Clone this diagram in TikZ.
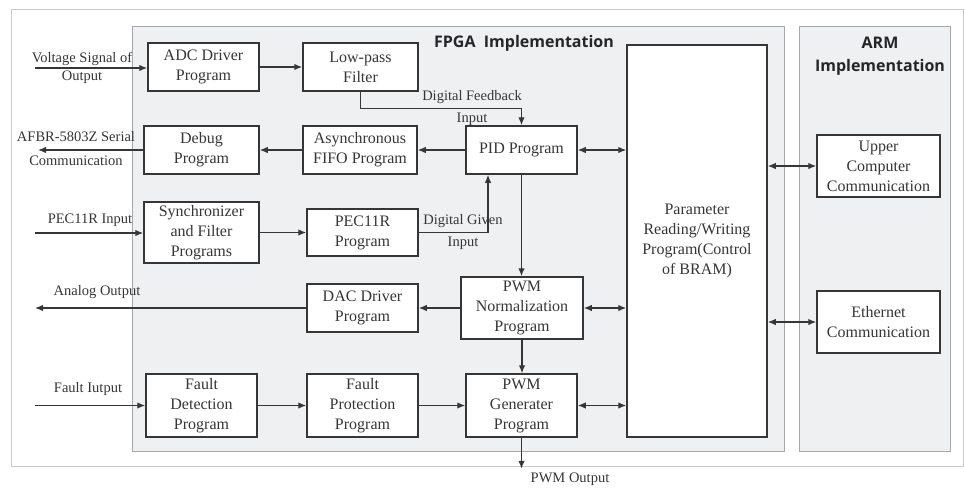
\documentclass[tikz,border=0pt]{standalone}
\usepackage{fontspec}
\setmainfont{Liberation Serif}
\newfontfamily\titlefont{Open Sans}
\usetikzlibrary{arrows.meta,calc}
\definecolor{inkgray}{HTML}{363636}
\definecolor{panelfill}{HTML}{EFF0F2}
\definecolor{paneledge}{HTML}{A6A8AB}
\definecolor{frameedge}{HTML}{C9CACC}
\tikzset{
  blk/.style={draw=inkgray, line width=1.5pt, fill=white, text=inkgray, align=center,
    inner sep=0pt, font=\fontsize{16}{20}\selectfont},
  lbl/.style={text=inkgray, align=center, inner sep=0pt, font=\fontsize{14.5}{18}\selectfont},
  ttl/.style={text=black!85, align=center, inner sep=0pt, font=\titlefont\bfseries\fontsize{16}{23}\selectfont},
  tip/.style={Latex[length=8pt,width=6.5pt]},
  arr/.style={draw=inkgray, line width=1.3pt, -{Latex[length=8pt,width=6.5pt]}},
  biarr/.style={draw=inkgray, line width=1.3pt, {Latex[length=8pt,width=6.5pt]}-{Latex[length=8pt,width=6.5pt]}},
}
\begin{document}
\begin{tikzpicture}[x=1pt,y=-1pt]
\useasboundingbox (0,0) rectangle (965,490);
% frame and the two implementation panels
\draw[frameedge, line width=1pt, fill=white] (11,9) rectangle (963,466);
\draw[paneledge, line width=0.8pt, fill=panelfill] (132,26) rectangle (784,451);
\draw[paneledge, line width=0.8pt, fill=panelfill] (799,26) rectangle (950,451);
\node[ttl] (fpgattl) at (524,43) {FPGA\ \ Implementation};
\node[ttl] (armttl) at (880,56) {ARM\\Implementation};

% program blocks
\node[blk, minimum width=111pt, minimum height=48pt] (adc)  at (203.5,67)  {ADC Driver\\Program};
\node[blk, minimum width=115pt, minimum height=48pt] (lpf)  at (360.5,67)  {Low-pass\\Filter};
\node[blk, minimum width=115pt, minimum height=48pt] (dbg)  at (201.5,150) {Debug\\Program};
\node[blk, minimum width=114pt, minimum height=48pt] (fifo) at (360,150)   {Asynchronous\\FIFO Program};
\node[blk, minimum width=111pt, minimum height=48pt] (pid)  at (521.5,150) {PID Program};
\node[blk, minimum width=115pt, minimum height=61pt] (sync) at (201.5,232.5) {Synchronizer\\and Filter\\Programs};
\node[blk, minimum width=111pt, minimum height=47pt] (pec)  at (362.5,232.5) {PEC11R\\Program};
\node[blk, minimum width=111pt, minimum height=48pt] (dac)  at (362.5,308) {DAC Driver\\Program};
\node[blk, minimum width=122pt, minimum height=62pt] (norm) at (522,308)   {PWM\\Normalization\\Program};
\node[blk, minimum width=111pt, minimum height=63pt] (fd)   at (201.5,405.5) {Fault\\Detection\\Program};
\node[blk, minimum width=111pt, minimum height=63pt] (fp)   at (362.5,405.5) {Fault\\Protection\\Program};
\node[blk, minimum width=111pt, minimum height=63pt] (gen)  at (521.5,405.5) {PWM\\Generater\\Program};
\node[blk, minimum width=140pt, minimum height=392pt] (par) at (697,241)   {Parameter\\Reading/Writing\\Program(Control\\of BRAM)};
\node[blk, minimum width=123pt, minimum height=62pt] (upc)  at (878.5,166) {Upper\\Computer\\Communication};
\node[blk, minimum width=123pt, minimum height=62pt] (eth)  at (878.5,322) {Ethernet\\Communication};

% external ends
\coordinate (vin)  at (35,68);
\coordinate (sout) at (38,150);
\coordinate (pin)  at (35,233);
\coordinate (aout) at (35,308);
\coordinate (fin)  at (35,405.5);

% signal flow
\draw[arr] (vin) -- (vin -| adc.west);
\draw[arr] (adc) -- (lpf);
\draw[arr] (lpf.south) -- ++(0,17) -| (pid.north);
\draw[arr] (pid) -- (fifo);
\draw[arr] (fifo) -- (dbg);
\draw[arr] (dbg.west) -- (sout);
\draw[arr] (pin) -- (pin -| sync.west);
\draw[arr] (sync) -- (pec);
\draw[arr] (pec.east) -| ([xshift=-33.5pt]pid.south);
\draw[arr] (pid.south) -- (pid.south |- norm.north);
\draw[arr] (norm) -- (dac);
\draw[arr] (dac.west) -- (aout);
\draw[arr] (norm.south) -- (norm.south |- gen.north);
\draw[arr] (fin) -- (fin -| fd.west);
\draw[arr] (fd) -- (fp);
\draw[arr] (fp) -- (gen);
\coordinate (pwmout) at ($(gen.south)+(0,31)$);
\draw[arr] (gen.south) -- (pwmout);

% parameter bus
\draw[biarr] (pid.east) -- (pid.east -| par.west);
\draw[biarr] (norm.east) -- (norm.east -| par.west);
\draw[biarr] (gen.east) -- (gen.east -| par.west);
\draw[biarr] (par.east |- upc.west) -- (upc.west);
\draw[biarr] (par.east |- eth.west) -- (eth.west);

% signal labels
\node[lbl] (l1) at (82,68)  {Voltage Signal of\\Output};
\node[lbl] (l2) at (76,149) {AFBR-5803Z Serial\\[6pt]Communication};
\node[lbl] (l3) at (90,220) {PEC11R Input};
\node[lbl] (l4) at (472,108) {Digital Feedback\\[4pt]Input};
\node[lbl] (l5) at (463,232) {Digital Given\\[4pt]Input};
\node[lbl] (l6) at (97,292) {Analog Output};
\node[lbl] (l7) at (88,389) {Fault Iutput};
\node[lbl] (l8) at (570,479) {PWM Output};
\end{tikzpicture}
\end{document}
